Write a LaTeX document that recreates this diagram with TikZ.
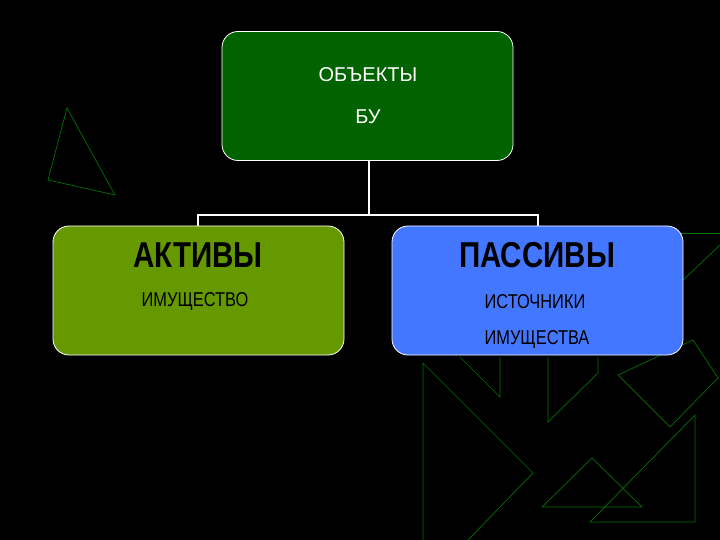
\documentclass[tikz,border=0pt]{standalone}
\usepackage{fontspec}
\setmainfont{Liberation Sans}
\newfontfamily\narrow[FakeStretch=0.82]{Liberation Sans}
\begin{document}
\begin{tikzpicture}[x=1pt,y=-1pt,
  bx/.style={draw=white,line width=0.8pt,rounded corners=16pt,minimum width=291pt,minimum height=129pt},
  tri/.style={draw=green!45!black,line width=0.7pt},
  con/.style={draw=white,line width=1.2pt},
  big/.style={font=\narrow\bfseries\fontsize{36}{36}\selectfont,text=black},
  small/.style={font=\narrow\fontsize{20}{22}\selectfont,text=black}]
\fill[black] (0,0) rectangle (720,540);
\useasboundingbox (0,0) rectangle (720,540);
% background shapes
\draw[tri] (67,108) -- (48,180) -- (115,195) -- cycle;
\draw[tri] (423,540) -- (423,363) -- (533,473) -- (468,540);
\draw[tri] (460,357) -- (500,397) -- (500,357);
\draw[tri] (548,357) -- (548,422) -- (598,373) -- (598,357);
\draw[tri] (693,340) -- (618,375) -- (670,427) -- (718,378) -- (693,340);
\draw[tri] (680,283) -- (720,245);
\draw[tri] (680,233) -- (720,233);
\draw[tri] (592,458) -- (542,507) -- (642,507) -- cycle;
\draw[tri] (695,415) -- (695,522) -- (590,522) -- cycle;
% boxes
\node[bx,fill=green!39!black] (top) at (367.5,96) {};
\node[bx,fill={rgb,255:red,102;green,153;blue,0}] (act) at (198.5,290.5) {};
\node[bx,fill={rgb,255:red,68;green,119;blue,255}] (pas) at (537.5,290.5) {};
\node[font=\fontsize{20}{22}\selectfont,text=white,align=center] (t1) at (368,75) {ОБЪЕКТЫ};
\node[font=\fontsize{20}{22}\selectfont,text=white] (t2) at (368,117) {БУ};
\node[big] (a1) at (198,255) {АКТИВЫ};
\node[small] (a2) at (195,302) {ИМУЩЕСТВО};
\node[big] (p1) at (537,255) {ПАССИВЫ};
\node[small] (p2) at (535,302) {ИСТОЧНИКИ};
\node[small] (p3) at (537,340) {ИМУЩЕСТВА};
% connectors
\coordinate (m) at (369,215);
\draw[con] (top.south -| m) -- (m);
\draw[con] (198,226) |- (m) -| (538,226);
\end{tikzpicture}
\end{document}
